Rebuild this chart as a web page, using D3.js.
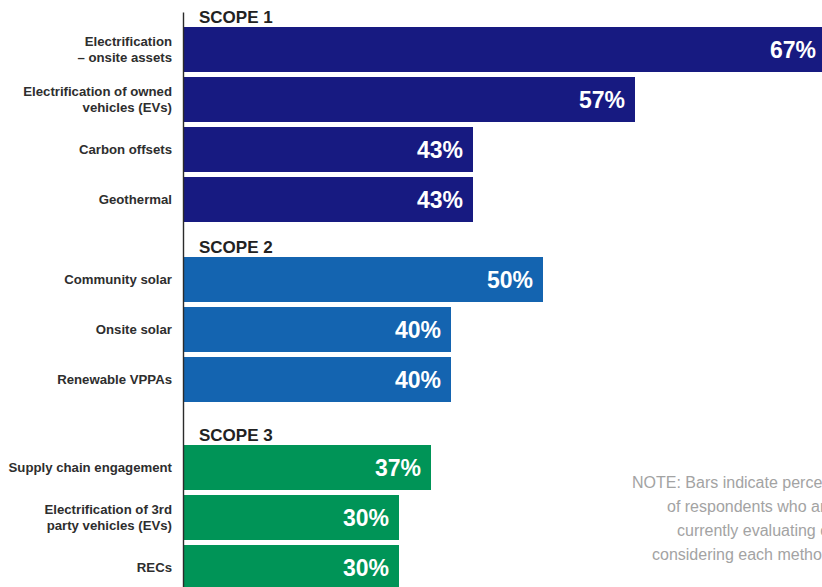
<!DOCTYPE html>
<html>
<head>
<meta charset="utf-8">
<script src="https://cdn.jsdelivr.net/npm/d3@7"></script>
<style>
  html, body { margin: 0; padding: 0; background: #ffffff; overflow: hidden; }
  svg { display: block; font-family: "Liberation Sans", Arial, Helvetica, sans-serif; }
</style>
</head>
<body>
<svg id="chart" width="822" height="587"></svg>
<script>
// ---------------- DATA ----------------
const scopes = ["SCOPE 1", "SCOPE 2", "SCOPE 3"];
const categories = [
  "Electrification\n– onsite assets",
  "Electrification of owned\nvehicles (EVs)",
  "Carbon offsets",
  "Geothermal",
  "Community solar",
  "Onsite solar",
  "Renewable VPPAs",
  "Supply chain engagement",
  "Electrification of 3rd\nparty vehicles (EVs)",
  "RECs"
];
const scopeOfCategory = [0, 0, 0, 0, 1, 1, 1, 2, 2, 2];
const values = [67, 57, 43, 43, 50, 40, 40, 37, 30, 30];
const valueLabels = values.map(v => v + "%");
const noteLines = [
  "NOTE: Bars indicate percentage",
  "of respondents who are",
  "currently evaluating or",
  "considering each method"
];

// ---------------- LAYOUT / STYLE ----------------
const W = 822, H = 587;
const colors = ["#171a81", "#1464b0", "#009457"];
const axisX = 183;
const barX0 = 184;
const firstTop = 27, rowStep = 50, barH = 45;
const groupGaps = [0, 30, 38];
const noteX = [632, 667, 677, 652];

const svg = d3.select("#chart");

// The infographic's bars are not strictly proportional to their labels,
// so the x scale is a piecewise-linear d3 scale through the drawn lengths.
const x = d3.scaleLinear()
  .domain([0, 30, 37, 40, 43, 50, 57, 67])
  .range([barX0, barX0 + 215, barX0 + 247, barX0 + 267, barX0 + 289, barX0 + 359, barX0 + 451, barX0 + 642]);

// y positions per group via band scales
const groupTops = [];
let cursor = firstTop;
scopes.forEach((s, g) => {
  cursor += groupGaps[g];
  groupTops.push(cursor);
  const n = scopeOfCategory.filter(k => k === g).length;
  cursor += n * rowStep;
});
const padIn = (rowStep - barH) / rowStep;
const yScales = scopes.map((s, g) => {
  const cats = categories.filter((c, i) => scopeOfCategory[i] === g);
  return d3.scaleBand()
    .domain(cats)
    .range([groupTops[g], groupTops[g] + cats.length * rowStep - (rowStep - barH)])
    .paddingInner(padIn)
    .paddingOuter(0)
    .align(0);
});
const yOf = i => yScales[scopeOfCategory[i]](categories[i]);
const bw = i => yScales[scopeOfCategory[i]].bandwidth();

const rows = categories.map((c, i) => ({ cat: c, i, v: values[i], g: scopeOfCategory[i] }));

// bars
svg.append("g").selectAll("rect").data(rows).join("rect")
  .attr("x", barX0)
  .attr("y", d => yOf(d.i))
  .attr("width", d => x(d.v) - barX0)
  .attr("height", d => bw(d.i))
  .attr("fill", d => colors[d.g]);

// value labels
svg.append("g").selectAll("text").data(rows).join("text")
  .attr("x", d => x(d.v) - 10)
  .attr("y", d => yOf(d.i) + bw(d.i) / 2 + 8.2)
  .attr("text-anchor", "end")
  .attr("fill", "#ffffff")
  .attr("font-weight", "bold")
  .attr("font-size", "23px")
  .text(d => valueLabels[d.i]);

// category labels
const lineH = 16.4;
const catG = svg.append("g");
rows.forEach(d => {
  const lines = d.cat.split("\n");
  const cy = yOf(d.i) + bw(d.i) / 2;
  const t = catG.append("text")
    .attr("text-anchor", "end")
    .attr("fill", "#2e2e2e")
    .attr("font-weight", "bold")
    .attr("font-size", "13.2px");
  lines.forEach((ln, k) => {
    t.append("tspan")
      .attr("x", 172)
      .attr("y", cy + 4.6 + (k - (lines.length - 1) / 2) * lineH)
      .text(ln);
  });
});

// scope headings
svg.append("g").selectAll("text").data(scopes).join("text")
  .attr("x", 199)
  .attr("y", (d, g) => groupTops[g] - 4)
  .attr("fill", "#222222")
  .attr("font-weight", "bold")
  .attr("font-size", "17px")
  .text(d => d);

// vertical axis line
const yAxisScale = d3.scaleLinear().domain([0, 1]).range([12, H]);
svg.append("g")
  .attr("transform", `translate(${axisX},0)`)
  .call(d3.axisLeft(yAxisScale).tickValues([]).tickSizeOuter(0))
  .call(g => g.select(".domain").attr("stroke", "#2b2b2b").attr("stroke-width", 1.4));

// note (runs off the right edge, as in the source image)
const note = svg.append("text")
  .attr("text-anchor", "start")
  .attr("fill", "#a3a3a3")
  .attr("font-size", "16px");
noteLines.forEach((ln, k) => {
  note.append("tspan")
    .attr("x", noteX[k])
    .attr("y", 488 + k * 24)
    .text(ln);
});
</script>
</body>
</html>
